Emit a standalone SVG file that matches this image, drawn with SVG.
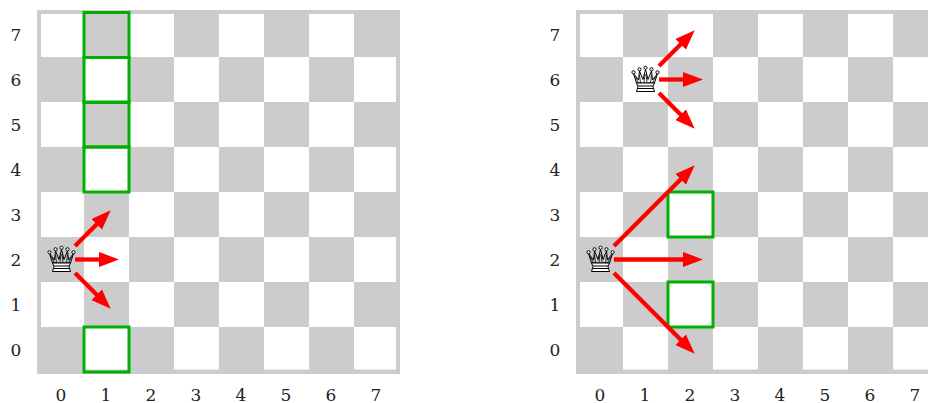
<svg xmlns="http://www.w3.org/2000/svg" width="928" height="403" viewBox="0 0 928 403">
<style>
.d{fill:#cccccc}
.w{fill:#ffffff}
.g{fill:none;stroke:#00b000;stroke-width:3}
.a{stroke:#ff0000;stroke-width:4.300;fill:none}
.h{fill:#ff0000}
text{font-family:"DejaVu Serif",serif;font-size:17px;fill:#222;text-anchor:middle}
.q{fill:none;stroke:#000;stroke-width:1;stroke-linejoin:round}
.b{fill:#fff;stroke:#000;stroke-width:1}
</style>
<defs>
<g id="cells">
<rect class="d" x="-2" y="-2" width="363" height="364"/>
<path class="w" d="M2 2H45V45H2ZM90 2H135V45H90ZM180 2H225V45H180ZM270 2H315V45H270ZM45 45H90V90H45ZM135 45H180V90H135ZM225 45H270V90H225ZM315 45H357V90H315ZM2 90H45V135H2ZM90 90H135V135H90ZM180 90H225V135H180ZM270 90H315V135H270ZM45 135H90V180H45ZM135 135H180V180H135ZM225 135H270V180H225ZM315 135H357V180H315ZM2 180H45V225H2ZM90 180H135V225H90ZM180 180H225V225H180ZM270 180H315V225H270ZM45 225H90V270H45ZM135 225H180V270H135ZM225 225H270V270H225ZM315 225H357V270H315ZM2 270H45V315H2ZM90 270H135V315H90ZM180 270H225V315H180ZM270 270H315V315H270ZM45 315H90V357.500H45ZM135 315H180V357.500H135ZM225 315H270V357.500H225ZM315 315H357V357.500H315Z"/>
</g>
<g id="queen">
<path class="q" stroke-width="1.100" d="M-9 4L-12 -5.500L-7 1L-6 -8L-2.500 0.500L0 -9.500L2.500 0.500L6 -8L7 1L12 -5.500L9 4Z"/>
<path fill="none" stroke="#000" stroke-width="0.800" d="M-7 4L-10 -2M-5 4L-6 -4M-1.500 3L-0.500 -5M1.500 3L0.500 -5M5 4L6 -4M7 4L10 -2"/>
<path class="b" d="M-9 4H9L7.500 7.500L9 12.500H-9L-7.500 7.500Z"/>
<path fill="none" stroke="#000" stroke-width="1" d="M-7.500 7H7.500M-7.500 9.500H7.500"/>
<circle class="b" cx="-12" cy="-6.700" r="1.600"/><circle class="b" cx="-6" cy="-9.700" r="1.600"/><circle class="b" cx="0" cy="-11.300" r="1.600"/><circle class="b" cx="6" cy="-9.700" r="1.600"/><circle class="b" cx="12" cy="-6.700" r="1.600"/>
</g>
<marker id="arr" markerUnits="userSpaceOnUse" markerWidth="20" markerHeight="16" refX="2" refY="7.500" orient="auto"><path class="h" d="M0 0L20 7.500L0 15Z"/></marker>
</defs>
<g id="board-left" transform="translate(39,12)"><use href="#cells"/></g>
<g id="board-right" transform="translate(578,12)"><use href="#cells"/></g>
<g id="highlights">
<rect class="g" x="84" y="12.500" width="45" height="45"/><rect class="g" x="84" y="57.500" width="45" height="45"/><rect class="g" x="84" y="102" width="45" height="45"/><rect class="g" x="84" y="147" width="45" height="45"/><rect class="g" x="84" y="327" width="45" height="45"/>
<rect class="g" x="668" y="192" width="45" height="45"/><rect class="g" x="668" y="282" width="45" height="45"/>
</g>
<g id="connectors">
<path class="a" marker-end="url(#arr)" d="M75 246L98 223"/><path class="a" marker-end="url(#arr)" d="M75 259.500H101"/><path class="a" marker-end="url(#arr)" d="M75 273L98 296"/>
<path class="a" marker-end="url(#arr)" d="M659 66L682 43"/><path class="a" marker-end="url(#arr)" d="M659 79.500H685"/><path class="a" marker-end="url(#arr)" d="M659 93L682 116"/>
<path class="a" marker-end="url(#arr)" d="M614 246L682 178"/><path class="a" marker-end="url(#arr)" d="M614 259.500H685"/><path class="a" marker-end="url(#arr)" d="M614 273L682 341"/>
</g>
<g id="queen-a" transform="translate(61.500,259)"><use href="#queen"/></g>
<g id="queen-b" transform="translate(645.500,79)"><use href="#queen"/></g>
<g id="queen-c" transform="translate(600.500,259)"><use href="#queen"/></g>
<g id="labels">
<text x="16" y="41">7</text><text x="16" y="86">6</text><text x="16" y="131">5</text><text x="16" y="176">4</text><text x="16" y="221">3</text><text x="16" y="266">2</text><text x="16" y="311">1</text><text x="16" y="356">0</text>
<text x="61" y="400.500">0</text><text x="106" y="400.500">1</text><text x="151" y="400.500">2</text><text x="196" y="400.500">3</text><text x="241" y="400.500">4</text><text x="286" y="400.500">5</text><text x="331" y="400.500">6</text><text x="376" y="400.500">7</text>
<text x="555" y="41">7</text><text x="555" y="86">6</text><text x="555" y="131">5</text><text x="555" y="176">4</text><text x="555" y="221">3</text><text x="555" y="266">2</text><text x="555" y="311">1</text><text x="555" y="356">0</text>
<text x="600" y="400.500">0</text><text x="645" y="400.500">1</text><text x="690" y="400.500">2</text><text x="735" y="400.500">3</text><text x="780" y="400.500">4</text><text x="825" y="400.500">5</text><text x="870" y="400.500">6</text><text x="915" y="400.500">7</text>
</g>
</svg>
